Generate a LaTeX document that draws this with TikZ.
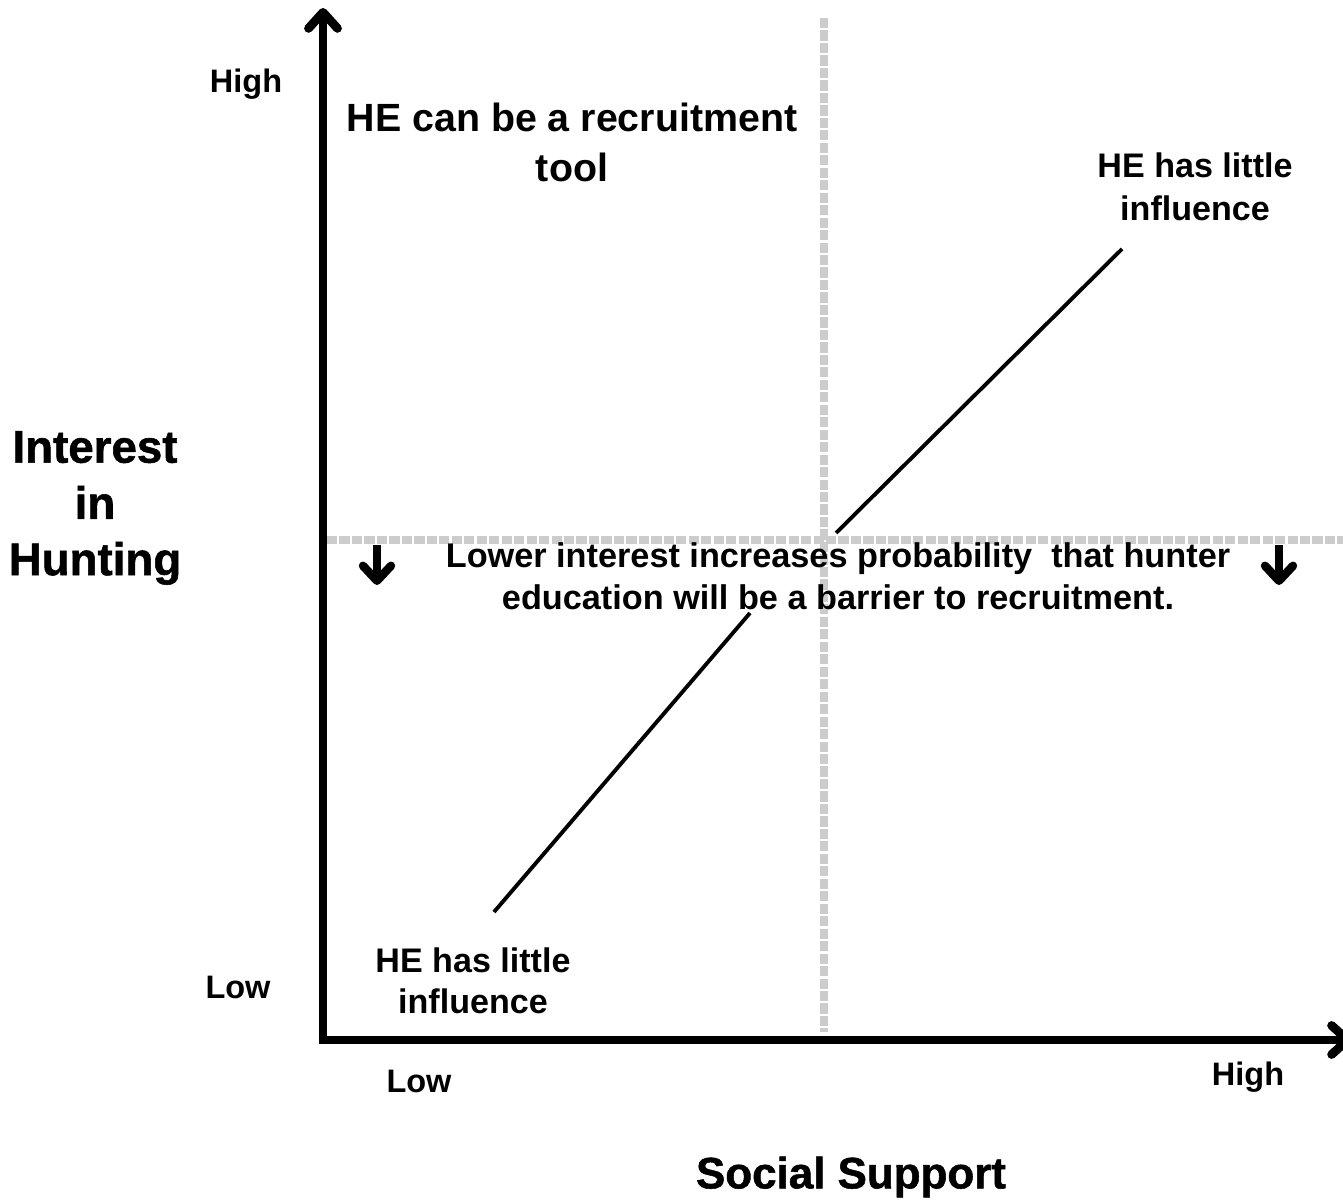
\documentclass[tikz,border=0pt]{standalone}
\usepackage{fontspec}
\setmainfont{Liberation Sans}
\newfontfamily\heavyfont{Liberation Sans}[BoldFeatures={FakeBold=1.2}]
\usetikzlibrary{arrows.meta, positioning}

\begin{document}
\begin{tikzpicture}[x=0.02cm, y=-0.02cm, >={Straight Barb[round, length=3.2mm, width=5.8mm, line width=5pt]}, axis/.style={line width=4.5pt, line join=miter}, grid/.style={draw=black!20, line width=4.5pt, dash pattern=on 5.8pt off 1.3pt}, trend/.style={line width=2.2pt}, every node/.style={align=center}]
% Define styles for the labels
\tikzstyle{tick} = [font=\bfseries\fontsize{18.5}{22}\selectfont]
\tikzstyle{title} = [font=\heavyfont\bfseries\fontsize{26}{32}\selectfont]
\tikzstyle{note} = [font=\bfseries\fontsize{19.4}{24.5}\selectfont]
\tikzstyle{hint} = [line width=4.4pt, -{Straight Barb[round, length=3mm, width=5.6mm, line width=4.8pt]}]

% Picture frame
\useasboundingbox (0,0) rectangle (1343,1202);
\clip (0,0) rectangle (1343,1202);

% Axes points
\coordinate (origin) at (323,1040);
\coordinate (ytop) at (323,8);
\coordinate (xend) at (1352,1040);

% Quadrant dividers
\coordinate (vtop) at (824,18);
\coordinate (vbot) at (824,1032);
\coordinate (hleft) at (327,540);
\coordinate (hright) at (1343,540);
\draw[grid] (vtop) -- (vbot);
\draw[grid] (hleft) -- (hright);

% Axes
\draw[axis, <->] (ytop) -- (origin) -- (xend);

% Diagonal trend
\coordinate (lowA) at (494,912);
\coordinate (lowB) at (750,613);
\coordinate (highA) at (836,533);
\coordinate (highB) at (1122,249);
\draw[trend] (lowA) -- (lowB);
\draw[trend] (highA) -- (highB);

% Small arrows
\coordinate (leftA) at (377,545);
\coordinate (leftB) at (377,585);
\coordinate (rightA) at (1279,545);
\coordinate (rightB) at (1279,585);
\draw[hint] (leftA) -- (leftB);
\draw[hint] (rightA) -- (rightB);

% Axis labels
\node[tick] (yhigh) at (246,84) {High};
\node[tick] (ylow) at (238,987) {Low};
\node[tick] (xlow) at (419,1081) {Low};
\node[tick] (xhigh) at (1248,1077) {High};
\node[title] (ylabel) at (95,508) {Interest\\in\\Hunting};
\node[title, font=\heavyfont\bfseries\fontsize{25}{30}\selectfont] (xlabel) at (851,1177) {Social Support};

% Quadrant texts
\node[font=\bfseries\fontsize{22.4}{28.5}\selectfont] (recruit) at (572,142) {HE can be a recruitment\\tool};
\node[note] (influencehi) at (1195,187) {HE has little\\influence};
\node[note, font=\bfseries\fontsize{19.4}{23.5}\selectfont] (influencelo) at (473,981) {HE has little\\influence};
\node[note, font=\bfseries\fontsize{19.5}{23.8}\selectfont] (barrier) at (838,576) {Lower interest increases probability~ that hunter\\education will be a barrier to recruitment.};
\end{tikzpicture}
\end{document}
